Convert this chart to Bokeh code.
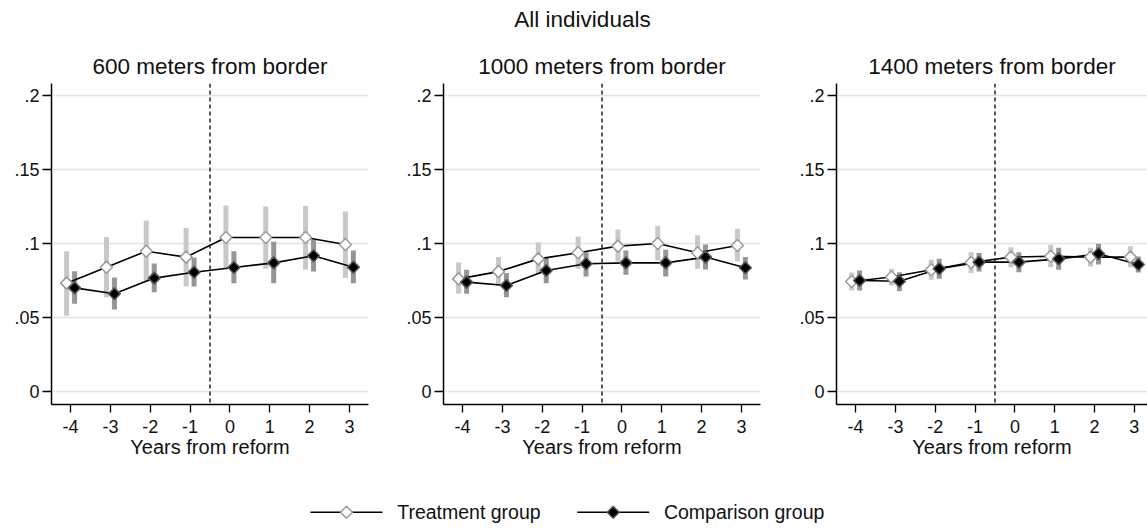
import numpy as np
from bokeh.plotting import figure
from bokeh.models import (Range1d, FixedTicker, Span, Label, ColumnDataSource)
from bokeh.layouts import column, row
from bokeh.embed import file_html
from bokeh.resources import INLINE
from bokeh.core.properties import value

# ---------------- data ----------------
years = [-4, -3, -2, -1, 0, 1, 2, 3]
overall_title = "All individuals"
panel_titles = ["600 meters from border", "1000 meters from border", "1400 meters from border"]
x_label = "Years from reform"
series_names = ["Treatment group", "Comparison group"]
xtick_vals = [-4, -3, -2, -1, 0, 1, 2, 3]
xtick_labels = ["-4", "-3", "-2", "-1", "0", "1", "2", "3"]
ytick_vals = [0, 0.05, 0.1, 0.15, 0.2]
ytick_labels = ["0", ".05", ".1", ".15", ".2"]
reform_break = -0.5

# 600 meters
treat_600 = [0.0732, 0.0840, 0.0948, 0.0908, 0.1040, 0.1040, 0.1040, 0.0993]
treat_600_lo = [0.0511, 0.0637, 0.0739, 0.0709, 0.0829, 0.0829, 0.0824, 0.0766]
treat_600_hi = [0.0948, 0.1043, 0.1155, 0.1104, 0.1257, 0.1250, 0.1254, 0.1216]
comp_600 = [0.0700, 0.0660, 0.0766, 0.0806, 0.0838, 0.0869, 0.0917, 0.0840]
comp_600_lo = [0.0592, 0.0554, 0.0671, 0.0709, 0.0732, 0.0732, 0.0811, 0.0732]
comp_600_hi = [0.0813, 0.0770, 0.0865, 0.0905, 0.0948, 0.1011, 0.1025, 0.0953]

# 1000 meters
treat_1000 = [0.0761, 0.0810, 0.0896, 0.0937, 0.0982, 0.1000, 0.0937, 0.0986]
treat_1000_lo = [0.0660, 0.0716, 0.0795, 0.0829, 0.0878, 0.0885, 0.0829, 0.0878]
treat_1000_hi = [0.0872, 0.0908, 0.1007, 0.1047, 0.1095, 0.1120, 0.1056, 0.1100]
comp_1000 = [0.0739, 0.0716, 0.0818, 0.0863, 0.0869, 0.0869, 0.0908, 0.0836]
comp_1000_lo = [0.0660, 0.0637, 0.0732, 0.0777, 0.0788, 0.0777, 0.0824, 0.0757]
comp_1000_hi = [0.0822, 0.0800, 0.0908, 0.0941, 0.0953, 0.0957, 0.0993, 0.0908]

# 1400 meters
treat_1400 = [0.0743, 0.0773, 0.0822, 0.0872, 0.0908, 0.0914, 0.0908, 0.0908]
treat_1400_lo = [0.0682, 0.0716, 0.0755, 0.0800, 0.0840, 0.0840, 0.0845, 0.0840]
treat_1400_hi = [0.0804, 0.0827, 0.0890, 0.0941, 0.0975, 0.0991, 0.0971, 0.0982]
comp_1400 = [0.0750, 0.0745, 0.0829, 0.0874, 0.0874, 0.0896, 0.0930, 0.0858]
comp_1400_lo = [0.0682, 0.0678, 0.0761, 0.0811, 0.0806, 0.0822, 0.0858, 0.0804]
comp_1400_hi = [0.0818, 0.0806, 0.0896, 0.0935, 0.0941, 0.0971, 0.0998, 0.0912]

# ---------------- style ----------------
FONT = "Liberation Sans"
OFFSET = 0.1
T_CI = "#c8c8c8"
C_CI = "#969696"
T_EDGE = "#9a9a9a"
C_EDGE = "#5a5a5a"
MSIZE = 8.5
TXT = "#111111"


def make_panel(title, t, tlo, thi, c, clo, chi, width, mb_left, mb_right, x_end):
    p = figure(width=width, height=430,
               x_range=Range1d(-4.48, x_end), y_range=Range1d(-0.0088, 0.2081),
               output_backend="svg", toolbar_location=None,
               min_border_left=mb_left, min_border_right=mb_right,
               min_border_top=43, min_border_bottom=66, title=title)
    p.outline_line_color = None
    p.background_fill_color = "white"
    p.border_fill_color = "white"
    p.title.align = "center"
    p.title.text_font = FONT
    p.title.text_font_size = "22.5px"
    p.title.text_font_style = "normal"
    p.title.text_color = TXT
    p.title.standoff = 9

    p.xaxis.ticker = FixedTicker(ticks=xtick_vals)
    p.xaxis.major_label_overrides = dict(zip(xtick_vals, xtick_labels))
    p.yaxis.ticker = FixedTicker(ticks=ytick_vals)
    p.yaxis.major_label_overrides = dict(zip(ytick_vals, ytick_labels))
    for ax in (p.xaxis[0], p.yaxis[0]):
        ax.axis_line_color = "black"
        ax.axis_line_width = 1.5
        ax.major_tick_line_color = "black"
        ax.major_tick_line_width = 1.3
        ax.major_tick_in = 0
        ax.minor_tick_in = 0
        ax.minor_tick_out = 0
        ax.major_label_text_font = FONT
        ax.major_label_text_font_size = "18px"
        ax.major_label_text_color = TXT
    p.xaxis.major_tick_out = 8
    p.xaxis.major_label_standoff = 7
    p.yaxis.major_tick_out = 9
    p.yaxis.major_label_standoff = 3
    p.xaxis.axis_label = x_label
    p.xaxis.axis_label_text_font = FONT
    p.xaxis.axis_label_text_font_size = "20px"
    p.xaxis.axis_label_text_font_style = "normal"
    p.xaxis.axis_label_text_color = TXT
    p.xaxis.axis_label_standoff = 0

    p.xgrid.visible = False
    p.ygrid.ticker = FixedTicker(ticks=ytick_vals)
    p.ygrid.grid_line_color = "#e4e4e4"
    p.ygrid.grid_line_width = 1.5

    p.add_layout(Span(location=reform_break, dimension="height", line_color="#222222",
                      line_dash="4 3", line_width=1.5))

    st = ColumnDataSource(dict(x=[yr - OFFSET for yr in years], y=t, lo=tlo, hi=thi))
    sc = ColumnDataSource(dict(x=[yr + OFFSET for yr in years], y=c, lo=clo, hi=chi))
    p.segment(x0="x", y0="lo", x1="x", y1="hi", source=st, line_width=5,
              line_color=T_CI, line_cap="butt")
    p.segment(x0="x", y0="lo", x1="x", y1="hi", source=sc, line_width=5,
              line_color=C_CI, line_cap="butt")
    p.line("x", "y", source=st, line_color="black", line_width=1.6)
    p.line("x", "y", source=sc, line_color="black", line_width=1.6)
    p.scatter("x", "y", source=st, marker="square", size=MSIZE, angle=np.pi / 4,
              fill_color="white", line_color=T_EDGE, line_width=1.5)
    p.scatter("x", "y", source=sc, marker="square", size=MSIZE, angle=np.pi / 4,
              fill_color="black", line_color=C_EDGE, line_width=1.5)
    return p


p1 = make_panel(panel_titles[0], treat_600, treat_600_lo, treat_600_hi,
                comp_600, comp_600_lo, comp_600_hi, 400, 51, 32, 3.48)
p2 = make_panel(panel_titles[1], treat_1000, treat_1000_lo, treat_1000_hi,
                comp_1000, comp_1000_lo, comp_1000_hi, 390, 43, 30, 3.48)
p3 = make_panel(panel_titles[2], treat_1400, treat_1400_lo, treat_1400_hi,
                comp_1400, comp_1400_lo, comp_1400_hi, 357, 46, 0, 3.33)

# header
head = figure(width=1147, height=40, x_range=Range1d(0, 1), y_range=Range1d(0, 1),
              output_backend="svg", toolbar_location=None, min_border=0,
              min_border_left=0, min_border_right=0, min_border_top=0, min_border_bottom=0,
              x_axis_type=None, y_axis_type=None)
head.outline_line_color = None
head.add_layout(Label(x=582, y=21.3, x_units="screen", y_units="screen", text=overall_title,
                      text_align="center", text_baseline="alphabetic", text_font=FONT,
                      text_font_size="22.5px", text_color=TXT))

# legend strip: a pixel-unit canvas holding the key (line sample + marker + label)
LEG_W, LEG_H = 1147, 60
leg = figure(width=LEG_W, height=LEG_H, x_range=Range1d(0, LEG_W), y_range=Range1d(0, LEG_H),
             output_backend="svg", toolbar_location=None, min_border=0,
             min_border_left=0, min_border_right=0, min_border_top=0, min_border_bottom=0,
             x_axis_type=None, y_axis_type=None)
leg.outline_line_color = None
leg.grid.visible = False
key_left = [310, 576.7]          # left end of each key's line sample
key_len = 72                     # length of line sample
key_y = 18.2                     # vertical centre of the key row
key_fill = ["white", "black"]
key_edge = [T_EDGE, C_EDGE]
for i in range(2):
    x0 = key_left[i]
    leg.segment(x0=[x0], y0=[key_y], x1=[x0 + key_len], y1=[key_y],
                line_color="black", line_width=1.6)
    leg.scatter(x=[x0 + key_len / 2], y=[key_y], marker="square", size=MSIZE,
                angle=np.pi / 4, fill_color=key_fill[i], line_color=key_edge[i],
                line_width=1.5)
    leg.text(x=[x0 + key_len + 14.7], y=[key_y], text=[series_names[i]],
             text_font=value(FONT), text_font_size="19.5px", text_color=TXT,
             text_align="left", text_baseline="middle")

layout = column(head, row(p1, p2, p3), leg)
open("out.html", "w").write(file_html(layout, INLINE))
